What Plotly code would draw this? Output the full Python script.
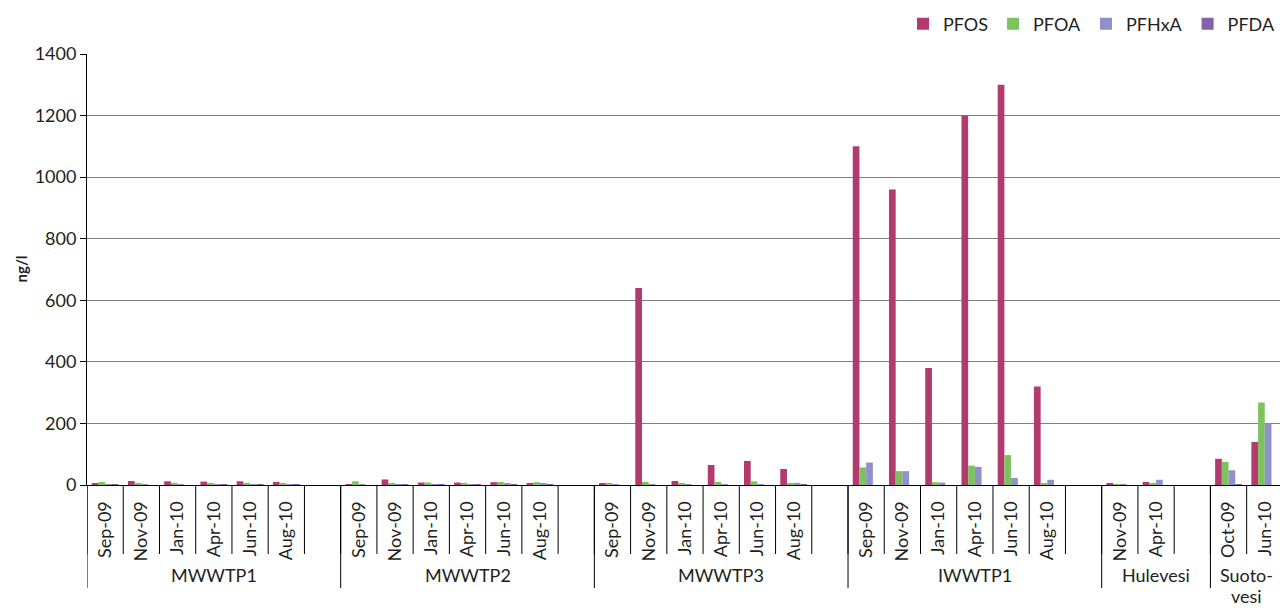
import plotly.graph_objects as go

# Sampling sites and the months sampled at each one
groups = ["MWWTP1", "MWWTP2", "MWWTP3", "IWWTP1", "Hulevesi", "Suotovesi"]
group_months = {
    "MWWTP1": ["Sep-09", "Nov-09", "Jan-10", "Apr-10", "Jun-10", "Aug-10"],
    "MWWTP2": ["Sep-09", "Nov-09", "Jan-10", "Apr-10", "Jun-10", "Aug-10"],
    "MWWTP3": ["Sep-09", "Nov-09", "Jan-10", "Apr-10", "Jun-10", "Aug-10"],
    "IWWTP1": ["Sep-09", "Nov-09", "Jan-10", "Apr-10", "Jun-10", "Aug-10"],
    "Hulevesi": ["Nov-09", "Apr-10"],
    "Suotovesi": ["Oct-09", "Jun-10"],
}
group_labels = {"Suotovesi": ["Suoto-", "vesi"]}

# Concentrations (ng/l), one value per sample in site/month order
pfos = [6, 13, 12, 11, 12, 10,
        2, 18, 8, 8, 9, 5,
        6, 640, 13, 65, 78, 52,
        1100, 960, 380, 1200, 1300, 320,
        6, 10,
        85, 140]
pfoa = [10, 7, 7, 6, 7, 6,
        12, 6, 8, 7, 10, 9,
        6, 10, 6, 10, 12, 6,
        57, 45, 9, 63, 97, 4,
        3, 5,
        75, 268]
pfhxa = [2, 2, 1, 2, 3, 3,
         1, 3, 2, 3, 5, 4,
         1, 3, 1, 3, 2, 7,
         73, 45, 8, 59, 23, 17,
         3, 17,
         48, 200]
pfda = [1, 0, 0, 1, 1, 1,
        0, 1, 1, 1, 1, 1,
        0, 0, 0, 0, 0, 1,
        0, 0, 0, 0, 0, 0,
        0, 0,
        3, 0]

series = [
    ("PFOS", pfos, "#B23A6F"),
    ("PFOA", pfoa, "#7DC25C"),
    ("PFHxA", pfhxa, "#8E92C9"),
    ("PFDA", pfda, "#8462A8"),
]

FONT = "Lato, 'DejaVu Sans', sans-serif"
TEXT = "#231F20"

# Category keys: every site gets its samples plus one empty spacer slot
categories, tick_text, sample_keys = [], [], []
group_spans = []
for gi, g in enumerate(groups):
    start = len(categories)
    for m in group_months[g]:
        key = f"{g}|{m}"
        categories.append(key)
        tick_text.append(m)
        sample_keys.append(key)
    if gi < len(groups) - 1:
        categories.append(f"{g}|")
        tick_text.append("")
    group_spans.append((g, start, len(categories)))

fig = go.Figure()
for name, vals, color in series:
    fig.add_trace(go.Bar(
        x=sample_keys, y=vals, name=name,
        marker=dict(color=color, line=dict(width=0)),
    ))

plot_h = 608 - 54 - 123
tick_drop = -(554 - 485) / plot_h
group_drop = -(588 - 485) / plot_h

shapes = []
# short separators between neighbouring months
for i in range(len(categories) + 1):
    shapes.append(dict(type="line", xref="x", yref="paper",
                       x0=i - 0.5, x1=i - 0.5, y0=0, y1=tick_drop,
                       line=dict(color="black", width=1)))
# long separators between sites, with the site name underneath
annotations = []
for g, s, e in group_spans:
    shapes.append(dict(type="line", xref="x", yref="paper",
                       x0=s - 0.5, x1=s - 0.5, y0=0, y1=group_drop,
                       line=dict(color="black", width=1)))
    lines = group_labels.get(g, [g])
    centre = (s + e - 1) / 2
    for li, txt in enumerate(lines):
        annotations.append(dict(
            x=centre, y=-(575 - 485 + 21 * li) / plot_h,
            xref="x", yref="paper", text=txt, showarrow=False,
            xanchor="center", yanchor="middle",
            font=dict(family=FONT, size=18, color=TEXT)))

annotations.append(dict(
    x=0, y=0.5, xref="paper", yref="paper", xshift=-67,
    text="<b>ng/l</b>", textangle=-90, showarrow=False,
    xanchor="center", yanchor="middle",
    font=dict(family=FONT, size=15, color=TEXT)))

fig.update_layout(
    width=1280, height=608,
    margin=dict(l=87, r=0, t=54, b=123),
    paper_bgcolor="white", plot_bgcolor="white",
    barmode="group", bargap=0.26, bargroupgap=0,
    font=dict(family=FONT, color=TEXT),
    shapes=shapes, annotations=annotations,
    legend=dict(orientation="h", x=1, xanchor="right",
                y=1 + (54 - 24) / plot_h, yanchor="middle",
                font=dict(family=FONT, size=18, color=TEXT),
                itemclick=False, bgcolor="rgba(0,0,0,0)"),
    xaxis=dict(
        type="category", categoryorder="array", categoryarray=categories,
        tickvals=categories, ticktext=tick_text,
        range=[-0.5, 32.42], tickangle=-90, ticks="", showgrid=False,
        showline=True, linecolor="black", linewidth=1, zeroline=False,
        tickfont=dict(family=FONT, size=18, color=TEXT),
        ticklabelstandoff=8,
    ),
    yaxis=dict(
        range=[0, 1400], dtick=200, tick0=0,
        showgrid=True, gridcolor="#7F7F7F", gridwidth=1,
        showline=True, linecolor="black", linewidth=1, zeroline=False,
        ticks="outside", ticklen=6, tickcolor="black",
        tickfont=dict(family=FONT, size=18, color=TEXT),
    ),
)

fig.write_html("out.html")
